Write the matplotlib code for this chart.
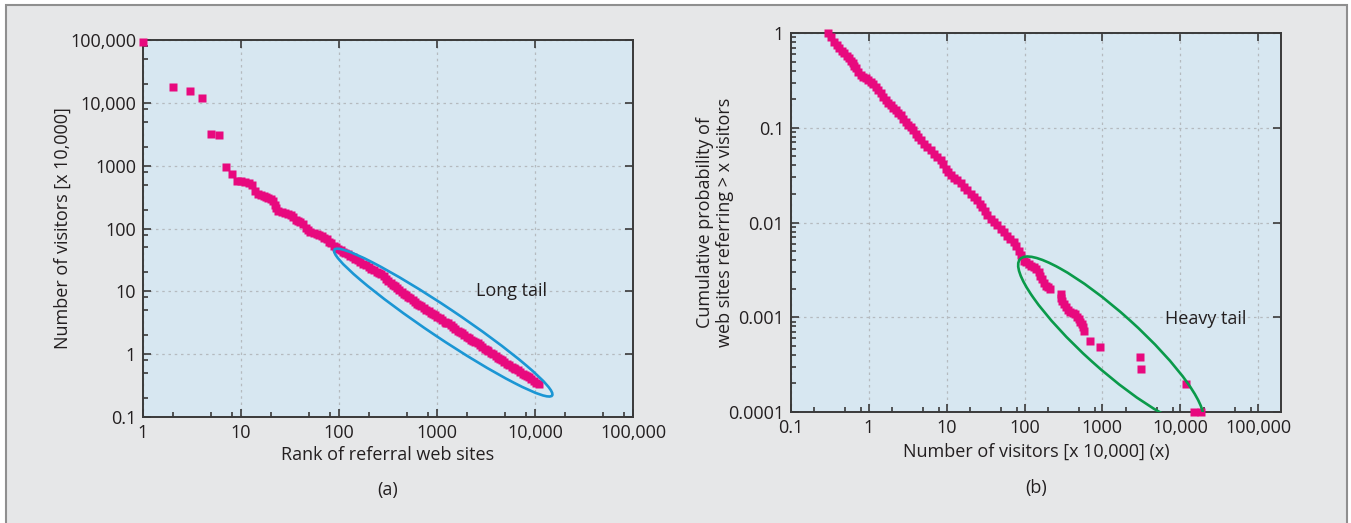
import matplotlib
matplotlib.use("Agg")
import matplotlib.pyplot as plt
from matplotlib import transforms
from matplotlib.patches import Ellipse, Rectangle
from matplotlib.ticker import LogLocator, NullFormatter

plt.rcParams['font.family'] = ['Open Sans', 'DejaVu Sans']

# (a) visitors vs rank of referral web sites
rank_a = [1, 2, 3, 4, 5, 6, 7, 8, 9, 10, 11, 12, 13, 14, 15, 16, 17, 18, 19,
          20, 21, 22, 23, 24, 26, 28, 30, 32, 34, 36, 38, 40, 43, 46, 48, 51,
          55, 59, 63, 67, 71, 75, 79, 83, 88, 93, 98, 104, 110, 116, 123, 130,
          138, 146, 155, 165, 175, 187, 200, 213, 227, 242, 258, 270, 285, 300,
          318, 336, 352, 369, 390, 412, 435, 458, 482, 506, 535, 565, 596, 628,
          660, 693, 735, 780, 825, 870, 910, 951, 1010, 1070, 1130, 1195, 1250,
          1303, 1380, 1460, 1540, 1620, 1700, 1782, 1890, 2000, 2110, 2220,
          2330, 2443, 2590, 2750, 2910, 3080, 3220, 3350, 3550, 3770, 3990,
          4220, 4400, 4592, 4870, 5160, 5470, 5800, 6050, 6281, 6660, 7060,
          7480, 7930, 8300, 8610, 9130, 9680, 10250, 10900]
visitors_a = [94000, 18000, 15600, 12000, 3200, 3070, 960, 726, 575, 560, 548,
              535, 490, 400, 360, 338, 328, 318, 308, 300, 275, 240, 210, 188,
              182, 177, 171, 163, 150, 138, 132, 128, 117, 103, 94, 89, 84.5,
              82, 79, 76, 71, 67, 62, 58, 53.5, 50, 47.5, 45, 42.5, 40.5, 39,
              37, 35, 33, 31, 29, 27.5, 26, 24.5, 23, 22, 20.5, 19.5, 18.8,
              17.5, 16.0, 14.8, 13.6, 12.8, 12.1, 11.4, 10.6, 9.9, 9.2, 8.7,
              8.2, 7.8, 7.3, 6.8, 6.4, 6.1, 5.8, 5.4, 5.1, 4.8, 4.55, 4.35,
              4.18, 3.95, 3.7, 3.5, 3.3, 3.18, 3.08, 2.9, 2.7, 2.52, 2.35,
              2.24, 2.14, 2.0, 1.88, 1.78, 1.7, 1.63, 1.57, 1.48, 1.38, 1.29,
              1.2, 1.16, 1.13, 1.06, 0.99, 0.93, 0.88, 0.84, 0.80, 0.75, 0.71,
              0.67, 0.63, 0.61, 0.59, 0.55, 0.52, 0.49, 0.46, 0.445, 0.43,
              0.40, 0.37, 0.35, 0.33]

# (b) cumulative probability vs number of visitors
visitors_b = [0.30, 0.33, 0.36, 0.39, 0.417, 0.45, 0.483, 0.52, 0.56, 0.59,
              0.618, 0.65, 0.68, 0.73, 0.79, 0.85, 0.915, 0.98, 1.06, 1.14,
              1.23, 1.33, 1.43, 1.54, 1.65, 1.78, 1.91, 2.06, 2.22, 2.39, 2.57,
              2.77, 2.98, 3.2, 3.45, 3.72, 4.0, 4.3, 4.64, 5.1, 5.65, 6.25,
              6.88, 7.6, 8.4, 9.0, 9.7, 10.5, 11.3, 12.5, 13.7, 15.1, 16.7,
              18.4, 20.3, 22.4, 24.7, 26.7, 28.7, 30.8, 33.2, 36.6, 40.4, 44.6,
              49.2, 54.3, 60, 66, 73, 78.5, 84.5, 91, 98, 105, 113.5, 122,
              131.5, 142, 153, 160, 168.6, 177, 186, 200, 215, 290, 297, 304,
              320, 336, 362, 389, 420, 451, 475, 498, 523, 549, 570, 588, 702,
              942, 3070, 3160, 11900, 15000, 18500]
prob_b = [1.0, 0.90, 0.81, 0.75, 0.69, 0.65, 0.61, 0.57, 0.54, 0.51, 0.478,
          0.45, 0.423, 0.39, 0.36, 0.345, 0.331, 0.318, 0.305, 0.288, 0.27,
          0.248, 0.23, 0.21, 0.195, 0.183, 0.173, 0.163, 0.153, 0.144, 0.136,
          0.125, 0.115, 0.108, 0.102, 0.094, 0.0867, 0.080, 0.0738, 0.068,
          0.0627, 0.058, 0.0533, 0.049, 0.0453, 0.041, 0.037, 0.034, 0.0314,
          0.0298, 0.0283, 0.026, 0.0237, 0.0218, 0.0201, 0.0185, 0.0171,
          0.0158, 0.0145, 0.0131, 0.0119, 0.011, 0.0101, 0.0093, 0.00857,
          0.0079, 0.00728, 0.0067, 0.0062, 0.0056, 0.00506, 0.0045, 0.00396,
          0.0038, 0.00366, 0.0035, 0.00337, 0.0032, 0.00298, 0.00275, 0.00253,
          0.0023, 0.00215, 0.00207, 0.00199, 0.00176, 0.0016, 0.0015, 0.00138,
          0.00127, 0.0012, 0.00113, 0.0011, 0.00108, 0.001, 0.00096, 0.0009,
          0.00085, 0.00078, 0.00072, 0.00056, 0.00048, 0.000385, 0.000283,
          0.000196, 0.0001, 0.0001]

ticks_a_x = [1, 10, 100, 1000, 1e4, 1e5]
labels_a_x = ['1', '10', '100', '1000', '10,000', '100,000']
ticks_a_y = [0.1, 1, 10, 100, 1000, 1e4, 1e5]
labels_a_y = ['0.1', '1', '10', '100', '1000', '10,000', '100,000']
ticks_b_x = [0.1, 1, 10, 100, 1000, 1e4, 1e5]
labels_b_x = ['0.1', '1', '10', '100', '1000', '10,000', '100,000']
ticks_b_y = [1e-4, 1e-3, 1e-2, 0.1, 1]
labels_b_y = ['0.0001', '0.001', '0.01', '0.1', '1']

MAGENTA = '#e8097e'
PANEL = '#d7e7f1'
TXT = '#231f20'
W, H = 1351, 523

fig = plt.figure(figsize=(W / 100, H / 100), dpi=100, facecolor='white')
frame = Rectangle((6 / W, -0.05), (1347 - 6) / W, 1.05 - 5.5 / H,
                  transform=fig.transFigure, facecolor='#e6e7e8',
                  edgecolor='#8f8f8f', lw=1.5, zorder=-10)
fig.patches.append(frame)

ax_a = fig.add_axes([143 / W, 1 - 417 / H, 490 / W, 377 / H])
ax_b = fig.add_axes([791 / W, 1 - 412 / H, 490 / W, 379 / H])


def style_axes(ax, xt, xl, yt, yl, ysubs):
    ax.set_xscale('log')
    ax.set_yscale('log')
    ax.set_facecolor(PANEL)
    ax.set_xticks(xt, xl)
    ax.set_yticks(yt, yl)
    ax.xaxis.set_minor_locator(LogLocator(base=10, subs=(2, 5, 8), numticks=50))
    ax.yaxis.set_minor_locator(LogLocator(base=10, subs=ysubs, numticks=50))
    ax.xaxis.set_minor_formatter(NullFormatter())
    ax.yaxis.set_minor_formatter(NullFormatter())
    ax.tick_params(which='both', direction='in', top=True, right=True,
                   color='#3a3a3a', labelcolor=TXT, labelsize=13, width=1.2)
    ax.tick_params(which='major', length=5.5, pad=5)
    ax.tick_params(which='minor', length=3.8, top=False, right=False)
    ax.grid(which='major', color='#b5babf', linestyle=(0, (2, 3)), lw=0.9)
    for s in ax.spines.values():
        s.set_color('#3a3a3a')
        s.set_linewidth(1.4)


def tail_ellipse(ax, cx, cy, a_px, b_px, angle, color):
    # ellipse drawn in pixel units around a data-space centre
    trans = fig.dpi_scale_trans + transforms.ScaledTranslation(cx, cy, ax.transData)
    ax.add_patch(Ellipse((0, 0), 2 * a_px / 100, 2 * b_px / 100, angle=angle,
                         transform=trans, fill=False, ec=color, lw=1.9, zorder=4))


style_axes(ax_a, ticks_a_x, labels_a_x, ticks_a_y, labels_a_y, (2, 5, 8))
ax_a.set_xlim(1, 1e5)
ax_a.set_ylim(0.1, 1e5)
ax_a.plot(rank_a, visitors_a, 's', ms=6, color=MAGENTA, mec='none',
          clip_on=False, zorder=3)
tail_ellipse(ax_a, 1158, 3.18, 131, 15, -33.8, '#1b96d4')
ax_a.text(5800, 10.2, 'Long tail', ha='center', va='center', fontsize=13, color=TXT)

style_axes(ax_b, ticks_b_x, labels_b_x, ticks_b_y, labels_b_y, range(2, 10))
ax_b.set_xlim(0.1, 1.97e5)
ax_b.set_ylim(1e-4, 1)
ax_b.plot(visitors_b, prob_b, 's', ms=6, color=MAGENTA, mec='none',
          clip_on=False, zorder=3)
tail_ellipse(ax_b, 1280, 0.000565, 122, 28, -42, '#0a9a4a')
ax_b.text(21500, 0.00096, 'Heavy tail', ha='center', va='center', fontsize=13, color=TXT)

fig.text(63 / W, 1 - 228 / H, 'Number of visitors [x 10,000]', rotation=90,
         ha='center', va='center', fontsize=13, color=TXT)
fig.text(715 / W, 1 - 222 / H,
         'Cumulative probability of\nweb sites referring > x visitors',
         rotation=90, ha='center', va='center', fontsize=13, color=TXT,
         linespacing=1.1)
fig.text(388 / W, 1 - 455 / H, 'Rank of referral web sites', ha='center',
         va='center', fontsize=13, color=TXT)
fig.text(1036 / W, 1 - 452 / H, 'Number of visitors [x 10,000] (x)', ha='center',
         va='center', fontsize=13, color=TXT)
fig.text(388 / W, 1 - 490 / H, '(a)', ha='center', va='center', fontsize=13, color=TXT)
fig.text(1036 / W, 1 - 488 / H, '(b)', ha='center', va='center', fontsize=13, color=TXT)

fig.savefig('out.png', dpi=100, facecolor=fig.get_facecolor())
